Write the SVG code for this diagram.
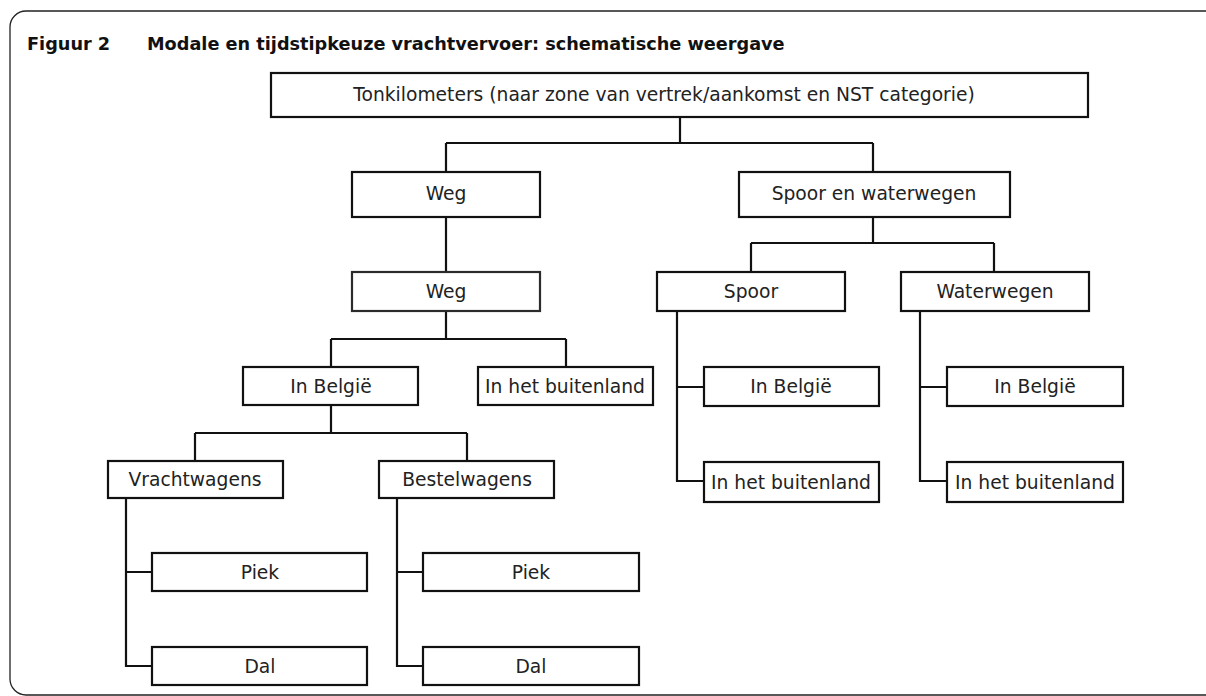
<svg xmlns="http://www.w3.org/2000/svg" width="1206" height="696" viewBox="0 0 1206 696">
<style>
.frame{fill:none;stroke:#222;stroke-width:1.3}
.title{font-family:"DejaVu Sans",Verdana,sans-serif;font-weight:bold;font-size:17.7px;fill:#111}
.box{fill:#fff;stroke:#111;stroke-width:2.2}
.lbl{font-family:"DejaVu Sans",Verdana,sans-serif;font-size:18.7px;fill:#222;text-anchor:middle}
.con{fill:none;stroke:#111;stroke-width:2.2}
</style>
<rect x="0" y="0" width="1206" height="696" fill="#fff"/>
<rect class="frame" x="10" y="11" width="1220" height="684" rx="16"/>
<text class="title" x="27" y="50">Figuur 2</text>
<text class="title" x="147" y="50">Modale en tijdstipkeuze vrachtvervoer: schematische weergave</text>
<g id="connectors">
<path class="con" d="M680 117V143M446 143H873M446 143V172M873 143V172"/>
<path class="con" d="M446 217V272"/>
<path class="con" d="M873 217V243M751 243H994M751 243V272M994 243V272"/>
<path class="con" d="M446 311V339M331 339H566M331 339V367M566 339V367"/>
<path class="con" d="M331 405V433M195 433H467M195 433V461M467 433V461"/>
<path class="con" d="M126 498V666H152M126 572H152"/>
<path class="con" d="M397 498V666H423M397 572H423"/>
<path class="con" d="M677 311V481H704M677 387H704"/>
<path class="con" d="M920 311V481H947M920 387H947"/>
</g>
<g id="n-root"><rect class="box" x="271" y="73" width="817" height="44"/><text class="lbl" x="664" y="101">Tonkilometers (naar zone van vertrek/aankomst en NST categorie)</text></g>
<g id="n-weg1"><rect class="box" x="352" y="172" width="188" height="45"/><text class="lbl" x="446" y="200">Weg</text></g>
<g id="n-sew"><rect class="box" x="739" y="172" width="271" height="45"/><text class="lbl" x="874" y="200">Spoor en waterwegen</text></g>
<g id="n-weg2"><rect class="box" x="352" y="272" width="188" height="39" style="stroke:#2b2b2b"/><text class="lbl" x="446" y="298">Weg</text></g>
<g id="n-spoor"><rect class="box" x="657" y="272" width="188" height="39"/><text class="lbl" x="751" y="298">Spoor</text></g>
<g id="n-water"><rect class="box" x="901" y="272" width="188" height="39"/><text class="lbl" x="995" y="298">Waterwegen</text></g>
<g id="n-weg-be"><rect class="box" x="243" y="367" width="175" height="38"/><text class="lbl" x="331" y="393">In België</text></g>
<g id="n-weg-bu"><rect class="box" x="478" y="367" width="175" height="38"/><text class="lbl" x="565" y="393">In het buitenland</text></g>
<g id="n-vracht"><rect class="box" x="108" y="461" width="175" height="37"/><text class="lbl" x="195" y="486">Vrachtwagens</text></g>
<g id="n-bestel"><rect class="box" x="379" y="461" width="175" height="37"/><text class="lbl" x="467" y="486">Bestelwagens</text></g>
<g id="n-piek1"><rect class="box" x="152" y="553" width="215" height="38"/><text class="lbl" x="260" y="579">Piek</text></g>
<g id="n-dal1"><rect class="box" x="152" y="647" width="215" height="38"/><text class="lbl" x="260" y="673">Dal</text></g>
<g id="n-piek2"><rect class="box" x="423" y="553" width="216" height="38"/><text class="lbl" x="531" y="579">Piek</text></g>
<g id="n-dal2"><rect class="box" x="423" y="647" width="216" height="38"/><text class="lbl" x="531" y="673">Dal</text></g>
<g id="n-spoor-be"><rect class="box" x="704" y="367" width="175" height="39"/><text class="lbl" x="791" y="393">In België</text></g>
<g id="n-spoor-bu"><rect class="box" x="704" y="462" width="175" height="40"/><text class="lbl" x="791" y="489">In het buitenland</text></g>
<g id="n-water-be"><rect class="box" x="947" y="367" width="176" height="39"/><text class="lbl" x="1035" y="393">In België</text></g>
<g id="n-water-bu"><rect class="box" x="947" y="462" width="176" height="40"/><text class="lbl" x="1035" y="489">In het buitenland</text></g>
</svg>
